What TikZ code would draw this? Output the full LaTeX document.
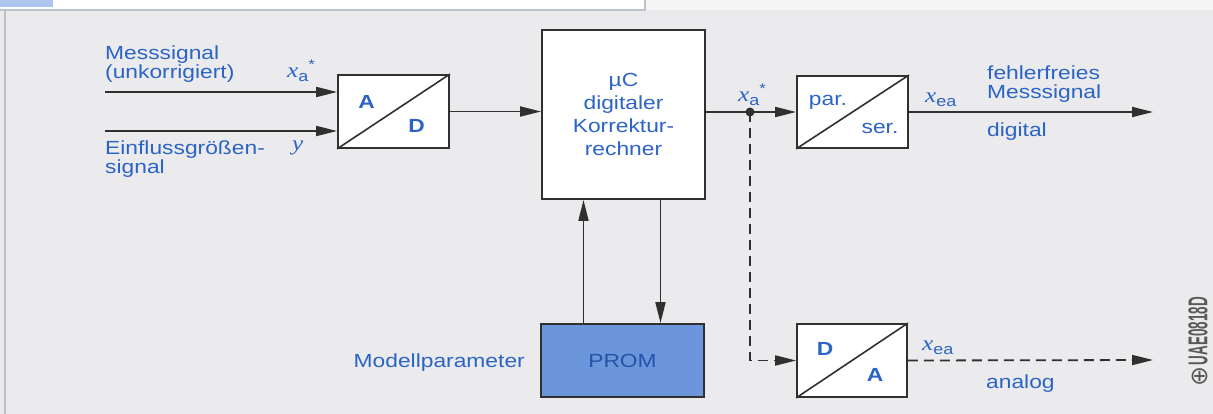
\documentclass[tikz,border=0pt]{standalone}
\usepackage{fontspec}
\setmainfont{Liberation Sans}[FakeStretch=1.2]
\newfontfamily\xfont{Liberation Serif}[FakeStretch=1.2]
\newfontfamily\symfont{DejaVu Sans}
\usetikzlibrary{arrows.meta}
\definecolor{txtblue}{HTML}{2B63C6}
\definecolor{promblue}{HTML}{6C96DC}
\definecolor{bggray}{HTML}{EBEBED}
\definecolor{linegray}{HTML}{303030}
\newcommand{\sigvar}[3]{{\xfont\itshape\fontsize{21}{21}\selectfont #1}\raisebox{-4pt}{\fontsize{15}{15}\selectfont #2}\raisebox{8pt}{\fontsize{14}{14}\selectfont #3}}

\begin{document}
\begin{tikzpicture}[x=1pt,y=-1pt,
	box/.style={draw=linegray,line width=1.8pt,fill=white,inner sep=0pt},
	lbl/.style={text=txtblue,inner sep=0pt,align=left,font=\fontsize{19}{19}\selectfont},
	cv/.style={text=txtblue,inner sep=0pt,font=\bfseries\fontsize{19}{20}\selectfont},
	cvs/.style={text=txtblue,inner sep=0pt,font=\fontsize{19}{20}\selectfont},
	arr/.style={draw=linegray,line width=1.8pt,-{Triangle[length=21pt,width=10pt]}},
	dsh/.style={arr,dash pattern=on 10pt off 6pt}]
		\useasboundingbox (0,0) rectangle (1213,414);
		\fill[white] (0,0) rectangle (1213,414);
		\fill[bggray] (0,10) rectangle (1213,414);
		\fill[gray!8] (645,0) rectangle (1213,10);
		\fill[promblue!55] (0,0) rectangle (53,7);
		\draw[promblue!30!gray!50,line width=1.5pt] (0,10) -- (645,10) -- (645,0);
		\draw[gray!50,line width=1.5pt] (5,10) -- (5,414);

		\node[box,minimum width=111pt,minimum height=73pt] (ad) at (393.5,111.5) {};
		\node[box,minimum width=163pt,minimum height=169pt,align=center,text=txtblue,font=\fontsize{19}{23}\selectfont] (uc) at (623.5,114.5) {µC\\digitaler\\Korrektur-\\rechner};
		\node[box,minimum width=111pt,minimum height=72pt] (ps) at (852.5,112) {};
		\node[box,fill=promblue,minimum width=163pt,minimum height=73pt,text=txtblue!85!black,font=\fontsize{19}{20}\selectfont] (prom) at (622.5,360.5) {PROM};
		\node[box,minimum width=110pt,minimum height=73pt] (da) at (852,360.5) {};
		\foreach \b in {ad,ps,da}
			\draw[linegray,line width=1.6pt] (\b.south west) -- (\b.north east);

		\node[cv] at ([shift={(-27,-10)}]ad.center) {A};
		\node[cv] at ([shift={(23,14.5)}]ad.center) {D};
		\node[cvs] at ([shift={(-24.5,-10)}]ps.center) {par.};
		\node[cvs] at ([shift={(27.5,16)}]ps.center) {ser.};
		\node[cv] at ([shift={(-27,-11.5)}]da.center) {D};
		\node[cv] at ([shift={(23,14.5)}]da.center) {A};

		\node[lbl,anchor=base west] (mess) at (105,79) {Messsignal\\(unkorrigiert)};
		\node[lbl,anchor=base west] (einfl) at (105,174) {Einflussgrößen-\\signal};
		\node[lbl,anchor=base west] (xin) at (287,78) {\sigvar{x}{a}{*}};
		\node[lbl,anchor=base west] (yin) at (292,151) {\sigvar{y}{}{}};
		\node[lbl,anchor=base west] (xout) at (738,102) {\sigvar{x}{a}{*}};
		\node[lbl,anchor=base west] (xdig) at (925,103) {\sigvar{x}{ea}{}};
		\node[lbl,anchor=base west] (fehl) at (987,99) {fehlerfreies\\Messsignal};
		\node[lbl,anchor=base west] (dig) at (987,137) {digital};
		\node[lbl,anchor=base west] (xana) at (922,350) {\sigvar{x}{ea}{}};
		\node[lbl,anchor=base west] (ana) at (986,388) {analog};
		\node[lbl,anchor=base east] (modp) at (525,367) {Modellparameter};
		\node[rotate=90,text=gray!70!black,inner sep=0pt] (code) at (1198,342) {{\symfont\fontsize{24}{24}\selectfont ⊕}\,\resizebox{68pt}{19pt}{\bfseries UAE0818D}};

		\coordinate (in1) at (105,92);
		\coordinate (in2) at (105,131);
		\coordinate (j) at (750,112);
		\coordinate (out1) at (1153,112);
		\coordinate (out2) at (1153,360);

		\draw[arr] (in1) -- (in1 -| ad.west);
		\draw[arr] (in2) -- (in2 -| ad.west);
		\draw[arr] (ad.east) -- (ad.east -| uc.west);
		\draw[arr] (uc.east |- j) -- (ps.west);
		\fill[linegray] (j) circle (4.5pt);
		\draw[arr] (ps.east) -- (out1);
		\draw[arr] ([xshift=-39pt]prom.north) -- ([xshift=-39pt]prom.north |- uc.south);
		\draw[arr] ([xshift=37pt]uc.south) -- ([xshift=37pt]uc.south |- prom.north);
		\draw[dsh] (j) |- (da.west);
		\draw[dsh] (da.east) -- (out2);
	\end{tikzpicture}
\end{document}
